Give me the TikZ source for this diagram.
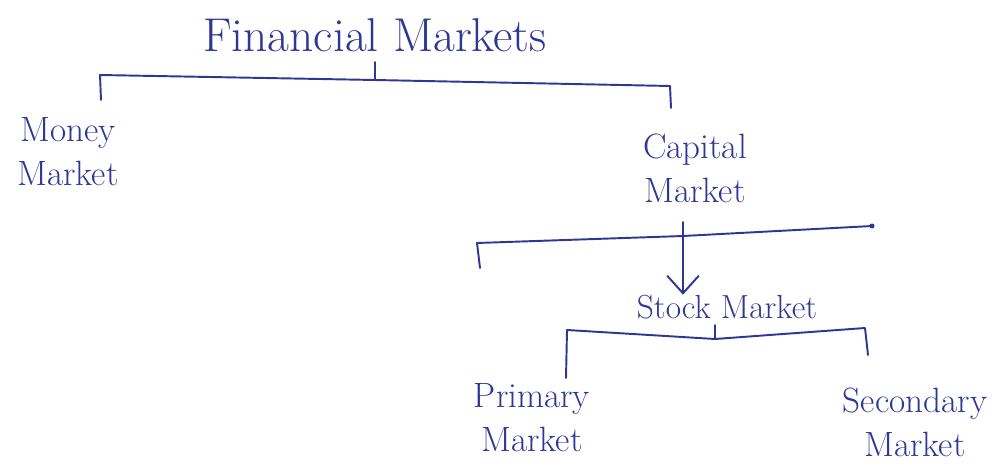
\documentclass[tikz,border=0pt]{standalone}
\usetikzlibrary{arrows.meta}
\definecolor{ink}{RGB}{45,55,150}
\begin{document}
\begin{tikzpicture}[x=0.02cm,y=-0.02cm,
  lbl/.style={text=ink, font=\fontsize{20}{25}\selectfont, align=center, inner sep=0pt},
  wire/.style={draw=ink, line width=1.1pt, line cap=round, line join=round}]
\useasboundingbox (0,0) rectangle (1000,476);
% labels
\node[lbl, font=\fontsize{27}{32}\selectfont] (fm) at (375,35) {Financial Markets};
\node[lbl] (mm) at (68,152) {Money\\Market};
\node[lbl] (cm) at (695,168) {Capital\\Market};
\node[lbl, font=\fontsize{19}{24}\selectfont] (sm) at (727,307) {Stock Market};
\node[lbl] (pm) at (532,418) {Primary\\Market};
\node[lbl] (sec) at (915,422) {Secondary\\Market};
% bracket under Financial Markets
\coordinate (j1) at (375,80);
\coordinate (j1t) at (375,62);
\coordinate (l1) at (100,75);
\coordinate (l1b) at (101,100);
\coordinate (r1) at (670,86);
\coordinate (r1b) at (671,108);
\draw[wire] (j1t) -- (j1);
\draw[wire] (l1b) -- (l1) -- (j1) -- (r1) -- (r1b);
% bracket under Capital Market
\coordinate (j2) at (683,236);
\coordinate (j2t) at (683,222);
\coordinate (l2) at (477,243);
\coordinate (l2b) at (480,268);
\coordinate (r2) at (872,226);
\draw[wire] (l2b) -- (l2) -- (j2) -- (r2);
\draw[wire] (j2t) -- (j2);
\fill[ink] (r2) circle (2.5);
\draw[wire, -{Straight Barb[length=10pt,width=18pt,line width=1.1pt]}] (j2) -- (sm.north -| j2);
% bracket under Stock Market
\coordinate (j3) at (715,339);
\coordinate (j3t) at (715,325);
\coordinate (l3) at (567,330);
\coordinate (l3b) at (566,378);
\coordinate (r3) at (865,328);
\coordinate (r3b) at (868,355);
\draw[wire] (j3t) -- (j3);
\draw[wire] (l3b) -- (l3) -- (j3) -- (r3) -- (r3b);
\end{tikzpicture}
\end{document}
